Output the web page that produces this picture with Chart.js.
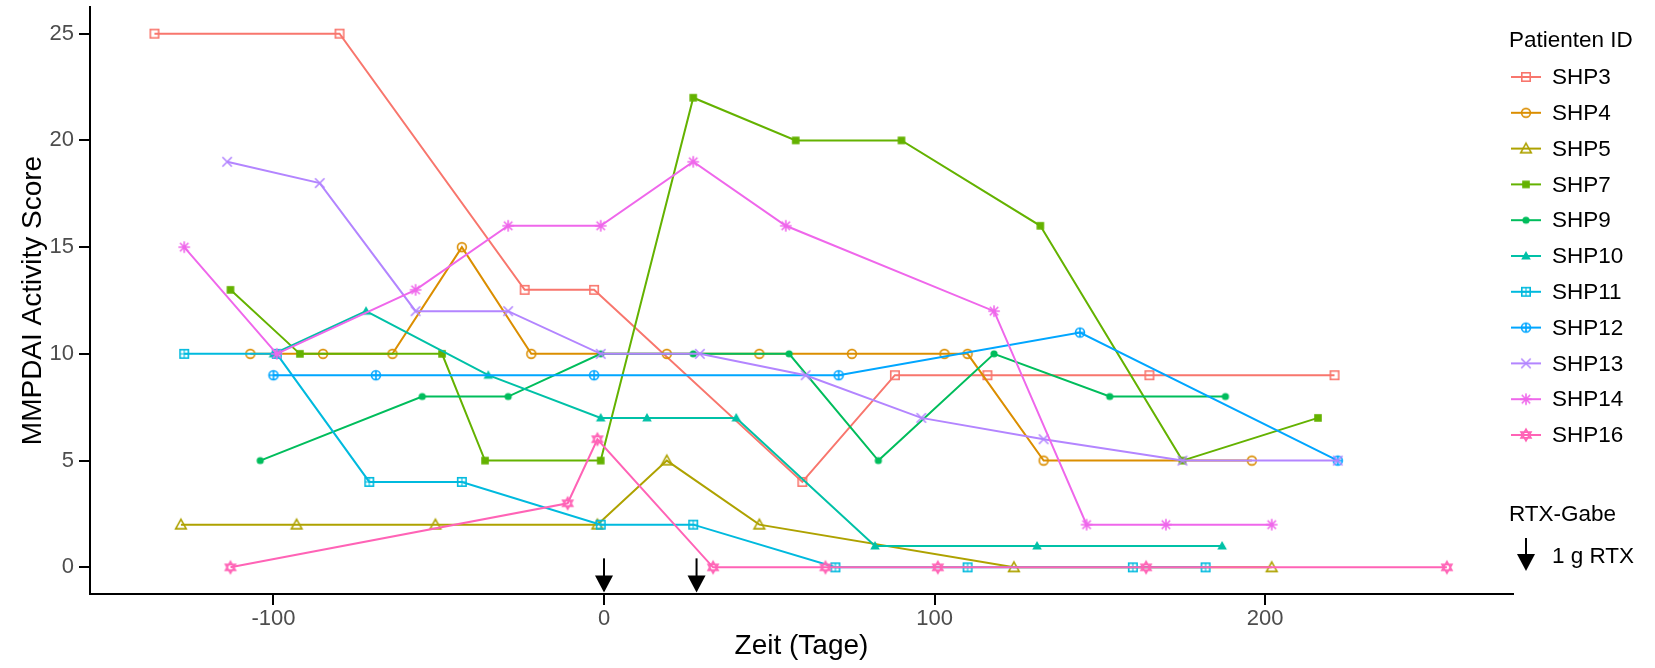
<!DOCTYPE html>
<html>
<head>
<meta charset="utf-8">
<title>MMPDAI Verlauf</title>
<script src="https://cdn.jsdelivr.net/npm/chart.js@4.4.1/dist/chart.umd.min.js"></script>
<style>
  html, body { margin: 0; padding: 0; background: #fff; }
  #wrap { width: 1655px; height: 668px; }
</style>
</head>
<body>
<div id="wrap"><canvas id="mmpdai-chart" width="1655" height="668"></canvas></div>
<script>
// Tage relativ zur ersten RTX-Gabe, MMPDAI Activity Score je Patient
const patients = ['SHP3', 'SHP4', 'SHP5', 'SHP7', 'SHP9', 'SHP10', 'SHP11', 'SHP12', 'SHP13', 'SHP14', 'SHP16'];

const shp3Days = [-136, -80, -24, -3, 60, 88, 116, 165, 221];
const shp3Score = [25, 25, 13, 13, 4, 9, 9, 9, 9];

const shp4Days = [-107, -85, -64, -43, -22, 19, 47, 75, 103, 110, 133, 196];
const shp4Score = [10, 10, 10, 15, 10, 10, 10, 10, 10, 10, 5, 5];

const shp5Days = [-128, -93, -51, -2, 19, 47, 124, 202];
const shp5Score = [2, 2, 2, 2, 5, 2, 0, 0];

const shp7Days = [-113, -92, -49, -36, -1, 27, 58, 90, 132, 175, 216];
const shp7Score = [13, 10, 10, 5, 5, 22, 20, 20, 16, 5, 7];

const shp9Days = [-104, -55, -29, -1, 27, 56, 83, 118, 153, 188];
const shp9Score = [5, 8, 8, 10, 10, 10, 5, 10, 8, 8];

const shp10Days = [-100, -72, -35, -1, 13, 40, 82, 131, 187];
const shp10Score = [10, 12, 9, 7, 7, 7, 1, 1, 1];

const shp11Days = [-127, -99, -71, -43, -1, 27, 70, 110, 160, 182];
const shp11Score = [10, 10, 4, 4, 2, 2, 0, 0, 0, 0];

const shp12Days = [-100, -69, -3, 71, 144, 222];
const shp12Score = [9, 9, 9, 9, 11, 5];

const shp13Days = [-114, -86, -57, -29, -1, 29, 61, 96, 133, 175, 222];
const shp13Score = [19, 18, 12, 12, 10, 10, 9, 7, 6, 5, 5];

const shp14Days = [-127, -99, -57, -29, -1, 27, 55, 118, 146, 170, 202];
const shp14Score = [15, 10, 13, 16, 16, 19, 16, 12, 2, 2, 2];

const shp16Days = [-113, -11, -2, 33, 67, 101, 164, 255];
const shp16Score = [0, 3, 6, 0, 0, 0, 0, 0];

// Zeitpunkte der RTX-Gabe (1 g)
const rtxDays = [0, 28];

const xTicks = [-100, 0, 100, 200];
const yTicks = [0, 5, 10, 15, 20, 25];

const allDays = [shp3Days, shp4Days, shp5Days, shp7Days, shp9Days, shp10Days, shp11Days, shp12Days, shp13Days, shp14Days, shp16Days];
const allScores = [shp3Score, shp4Score, shp5Score, shp7Score, shp9Score, shp10Score, shp11Score, shp12Score, shp13Score, shp14Score, shp16Score];

// ggplot-Farbpalette und Punktformen
const colors = ['#F8766D', '#DB8E00', '#AEA200', '#64B200', '#00BD5C', '#00C1A7', '#00BADE', '#00A6FF', '#B385FF', '#EF67EB', '#FF63B6'];
const shapes = ['square', 'circle', 'triangle', 'squareFill', 'dot', 'triangleFill', 'squarePlus', 'circlePlus', 'cross', 'asterisk', 'david'];

const FONT = "'Liberation Sans', Arial, Helvetica, sans-serif";

function makeMarker(shape, color) {
  const c = document.createElement('canvas');
  c.width = 18;
  c.height = 18;
  const g = c.getContext('2d');
  g.translate(9, 9);
  g.strokeStyle = color;
  g.fillStyle = color;
  g.lineWidth = 1.6;
  g.beginPath();
  switch (shape) {
    case 'square':
      g.strokeRect(-4.2, -4.2, 8.4, 8.4);
      break;
    case 'circle':
      g.arc(0, 0, 4.4, 0, Math.PI * 2);
      g.stroke();
      break;
    case 'triangle':
      g.moveTo(0, -5.4);
      g.lineTo(5.3, 4.1);
      g.lineTo(-5.3, 4.1);
      g.closePath();
      g.stroke();
      break;
    case 'squareFill':
      g.fillRect(-3.8, -3.8, 7.6, 7.6);
      break;
    case 'dot':
      g.arc(0, 0, 3.6, 0, Math.PI * 2);
      g.fill();
      break;
    case 'triangleFill':
      g.moveTo(0, -5);
      g.lineTo(4.8, 3.5);
      g.lineTo(-4.8, 3.5);
      g.closePath();
      g.fill();
      break;
    case 'squarePlus':
      g.strokeRect(-4.2, -4.2, 8.4, 8.4);
      g.moveTo(0, -4.2); g.lineTo(0, 4.2);
      g.moveTo(-4.2, 0); g.lineTo(4.2, 0);
      g.lineWidth = 1.1;
      g.stroke();
      break;
    case 'circlePlus':
      g.arc(0, 0, 4.5, 0, Math.PI * 2);
      g.moveTo(0, -4.5); g.lineTo(0, 4.5);
      g.moveTo(-4.5, 0); g.lineTo(4.5, 0);
      g.stroke();
      break;
    case 'cross':
      g.moveTo(-4.7, -4.7); g.lineTo(4.7, 4.7);
      g.moveTo(-4.7, 4.7); g.lineTo(4.7, -4.7);
      g.stroke();
      break;
    case 'asterisk':
      g.moveTo(0, -5.8); g.lineTo(0, 5.8);
      g.moveTo(-5.8, 0); g.lineTo(5.8, 0);
      g.moveTo(-4.2, -4.2); g.lineTo(4.2, 4.2);
      g.moveTo(-4.2, 4.2); g.lineTo(4.2, -4.2);
      g.stroke();
      break;
    case 'david':
      g.moveTo(0, -5.8); g.lineTo(5, 2.9); g.lineTo(-5, 2.9); g.closePath();
      g.moveTo(0, 5.8); g.lineTo(5, -2.9); g.lineTo(-5, -2.9); g.closePath();
      g.stroke();
      break;
  }
  return c;
}

const markers = shapes.map((s, i) => makeMarker(s, colors[i]));

const datasets = patients.map((name, i) => ({
  label: name,
  data: allDays[i].map((d, j) => ({ x: d, y: allScores[i][j] })),
  borderColor: colors[i],
  backgroundColor: colors[i],
  borderWidth: 2,
  pointStyle: markers[i],
  pointRadius: 4,
  pointHoverRadius: 4,
  tension: 0,
  fill: false,
  clip: false,
  order: -i
}));

function drawArrow(ctx, x, top, tip) {
  const headH = 17, headW = 9;
  ctx.beginPath();
  ctx.moveTo(x, top);
  ctx.lineTo(x, tip - headH + 1);
  ctx.stroke();
  ctx.beginPath();
  ctx.moveTo(x, tip);
  ctx.lineTo(x - headW, tip - headH);
  ctx.lineTo(x + headW, tip - headH);
  ctx.closePath();
  ctx.fill();
}

// Pfeile fuer die RTX-Gaben an der x-Achse
const rtxArrows = {
  id: 'rtxArrows',
  afterDatasetsDraw(chart) {
    const { ctx, scales: { x, y } } = chart;
    ctx.save();
    ctx.strokeStyle = '#000';
    ctx.fillStyle = '#000';
    ctx.lineWidth = 2;
    rtxDays.forEach(d => {
      drawArrow(ctx, x.getPixelForValue(d), y.getPixelForValue(0.42), y.getPixelForValue(-1.18));
    });
    ctx.restore();
  }
};

// Legende rechts: Patienten ID + RTX-Gabe
const sideLegend = {
  id: 'sideLegend',
  afterDraw(chart) {
    const ctx = chart.ctx;
    const left = 1509;
    ctx.save();
    ctx.fillStyle = '#000';
    ctx.textAlign = 'left';
    ctx.textBaseline = 'middle';
    ctx.font = `22.5px ${FONT}`;
    ctx.fillText('Patienten ID', left, 41);

    patients.forEach((name, i) => {
      const cy = 77 + i * 35.8;
      ctx.strokeStyle = colors[i];
      ctx.lineWidth = 2;
      ctx.beginPath();
      ctx.moveTo(left + 2, cy);
      ctx.lineTo(left + 32, cy);
      ctx.stroke();
      const m = markers[i];
      ctx.drawImage(m, left + 17 - m.width / 2, cy - m.height / 2);
      ctx.fillStyle = '#000';
      ctx.fillText(name, left + 43, cy + 1);
    });

    ctx.fillText('RTX-Gabe', left, 515);
    ctx.strokeStyle = '#000';
    ctx.fillStyle = '#000';
    ctx.lineWidth = 2;
    drawArrow(ctx, left + 17, 538, 571);
    ctx.fillText('1 g RTX', left + 43, 557);
    ctx.restore();
  }
};

// Achsenbeschriftungen sollen den Plotbereich nicht verschieben
function noLabelPadding(s) {
  s.paddingTop = 0;
  s.paddingBottom = 0;
  s.paddingLeft = 0;
  s.paddingRight = 0;
}

const ctx = document.getElementById('mmpdai-chart').getContext('2d');

const chart = new Chart(ctx, {
  type: 'line',
  data: { datasets },
  options: {
    responsive: false,
    animation: false,
    events: [],
    layout: { padding: { top: 7, right: 142, left: 0, bottom: 0 } },
    plugins: {
      legend: { display: false },
      tooltip: { enabled: false }
    },
    scales: {
      x: {
        type: 'linear',
        min: -155.5,
        max: 275,
        afterBuildTicks: s => { s.ticks = xTicks.map(v => ({ value: v })); },
        afterFit: s => { s.height = 74; noLabelPadding(s); },
        grid: { drawOnChartArea: false, drawTicks: true, tickLength: 11, color: '#000', lineWidth: 2 },
        border: { display: true, color: '#000', width: 2 },
        ticks: { color: '#4D4D4D', font: { size: 22, family: FONT }, padding: 1, maxRotation: 0 },
        title: {
          display: true,
          text: 'Zeit (Tage)',
          color: '#000',
          font: { size: 28, family: FONT },
          padding: { top: 0, bottom: 5 }
        }
      },
      y: {
        type: 'linear',
        min: -1.25,
        max: 26.25,
        afterBuildTicks: s => { s.ticks = yTicks.map(v => ({ value: v })); },
        afterFit: s => { s.width = 90; noLabelPadding(s); },
        grid: { drawOnChartArea: false, drawTicks: true, tickLength: 11, color: '#000', lineWidth: 2 },
        border: { display: true, color: '#000', width: 2 },
        ticks: { color: '#4D4D4D', font: { size: 22, family: FONT }, padding: 5 },
        title: {
          display: true,
          text: 'MMPDAI Activity Score',
          color: '#000',
          font: { size: 28, family: FONT },
          padding: { top: 16, bottom: 0 }
        }
      }
    }
  },
  plugins: [rtxArrows, sideLegend]
});
</script>
</body>
</html>
